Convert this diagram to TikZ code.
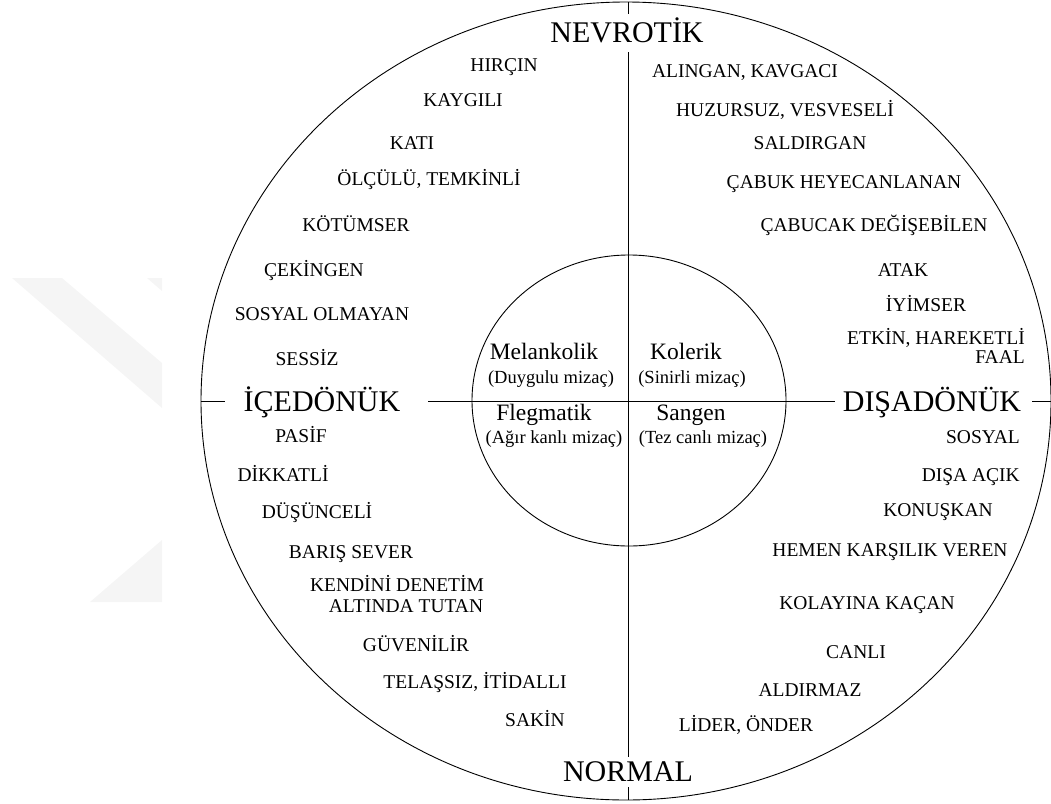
\documentclass[tikz,border=0pt]{standalone}
\usepackage{fontspec}
\setmainfont{Liberation Serif}
\usetikzlibrary{shapes.geometric}
\tikzset{
  trait/.style={font=\fontsize{19.5}{21}\selectfont, inner sep=0pt, text height=12.8pt, text depth=0pt},
  axislabel/.style={font=\fontsize{30}{32}\selectfont, inner sep=0pt, text height=19.7pt, text depth=0pt},
  temper/.style={font=\fontsize{23.5}{25}\selectfont, inner sep=0pt, text height=15.4pt, text depth=0pt},
  tempsub/.style={font=\fontsize{18.5}{20}\selectfont, inner sep=0pt, text height=12.1pt, text depth=0pt},
  ring/.style={draw, line width=0.9pt, ellipse, inner sep=0pt},
  axisline/.style={draw, line width=0.9pt},
  chevron/.style={fill=gray!8, draw=none}
}
\begin{document}
\begin{tikzpicture}[x=1pt, y=-1pt]
\useasboundingbox (0,0) rectangle (1051,803);

% faint chevron in the background
\path[chevron] (12,278) -- (62,278) -- (162,363) -- (162,408) -- cycle;
\path[chevron] (147,278) -- (162,278) -- (162,291) -- cycle;
\path[chevron] (162,540) -- (90,602) -- (162,602) -- cycle;

% rings
\node[ring, minimum width=850, minimum height=798] (outer) at (626,401) {};
\node[ring, minimum width=314, minimum height=291] (inner) at (629,400.5) {};

% axis labels
\node[axislabel] (nev) at (627,33) {NEVROTİK};
\node[axislabel] (nor) at (628,772) {NORMAL};
\node[axislabel] (ice) at (322,402) {İÇEDÖNÜK};
\node[axislabel] (dis) at (932,402) {DIŞADÖNÜK};

% axis line end points
\coordinate (vt0) at (628,2);
\coordinate (vt1) at (628,14);
\coordinate (vt2) at (628,52);
\coordinate (vb1) at (628,757);
\coordinate (vb2) at (628,787);
\coordinate (vb3) at (628,800);
\coordinate (hl1) at (225,401);
\coordinate (hl2) at (428,401);
\coordinate (hr1) at (835,401);
\coordinate (hr2) at (1032,401);

\path[axisline] (vt0) -- (vt1);
\path[axisline] (vt2) -- (vb1);
\path[axisline] (vb2) -- (vb3);
\path[axisline] (outer.west) -- (hl1);
\path[axisline] (hl2) -- (hr1);
\path[axisline] (hr2) -- (outer.east);

% temperaments
\node[temper]  (mel)  at (544,352) {Melankolik};
\node[tempsub] (melx) at (551,377) {(Duygulu mizaç)};
\node[temper]  (kol)  at (686,352) {Kolerik};
\node[tempsub] (kolx) at (692,377) {(Sinirli mizaç)};
\node[temper]  (fle)  at (544,413) {Flegmatik};
\node[tempsub] (flex) at (554,437) {(Ağır kanlı mizaç)};
\node[temper]  (san)  at (691,413) {Sangen};
\node[tempsub] (sanx) at (703,437) {(Tez canlı mizaç)};

% introvert, neurotic
\node[trait] (t1) at (504,65) {HIRÇIN};
\node[trait] (t2) at (463,100) {KAYGILI};
\node[trait] (t3) at (412,143) {KATI};
\node[trait] (t4) at (429,179) {ÖLÇÜLÜ, TEMKİNLİ};
\node[trait] (t5) at (356,225) {KÖTÜMSER};
\node[trait] (t6) at (314,270) {ÇEKİNGEN};
\node[trait] (t7) at (322,314) {SOSYAL OLMAYAN};
\node[trait] (t8) at (307,359) {SESSİZ};

% introvert, normal
\node[trait] (t9)  at (301,436) {PASİF};
\node[trait] (t10) at (283,475) {DİKKATLİ};
\node[trait] (t11) at (317,512) {DÜŞÜNCELİ};
\node[trait] (t12) at (351,552) {BARIŞ SEVER};
\node[trait] (t13) at (397,585) {KENDİNİ DENETİM};
\node[trait] (t14) at (406,606) {ALTINDA TUTAN};
\node[trait] (t15) at (416,645) {GÜVENİLİR};
\node[trait] (t16) at (475,682) {TELAŞSIZ, İTİDALLI};
\node[trait] (t17) at (535,720) {SAKİN};

% extravert, neurotic
\node[trait] (e1) at (745,71) {ALINGAN, KAVGACI};
\node[trait] (e2) at (785,110) {HUZURSUZ, VESVESELİ};
\node[trait] (e3) at (810,143) {SALDIRGAN};
\node[trait] (e4) at (844,182) {ÇABUK HEYECANLANAN};
\node[trait] (e5) at (874,225) {ÇABUCAK DEĞİŞEBİLEN};
\node[trait] (e6) at (903,270) {ATAK};
\node[trait] (e7) at (926,305) {İYİMSER};
\node[trait, anchor=east] (e8) at (1025,338) {ETKİN, HAREKETLİ};
\node[trait, anchor=east] (e9) at (1025,357) {FAAL};

% extravert, normal
\node[trait, anchor=east] (e10) at (1020,437) {SOSYAL};
\node[trait, anchor=east] (e11) at (1020,475) {DIŞA AÇIK};
\node[trait] (e12) at (938,510) {KONUŞKAN};
\node[trait] (e13) at (890,550) {HEMEN KARŞILIK VEREN};
\node[trait] (e14) at (867,603) {KOLAYINA KAÇAN};
\node[trait] (e15) at (856,652) {CANLI};
\node[trait] (e16) at (810,690) {ALDIRMAZ};
\node[trait] (e17) at (746,725) {LİDER, ÖNDER};
\end{tikzpicture}
\end{document}
